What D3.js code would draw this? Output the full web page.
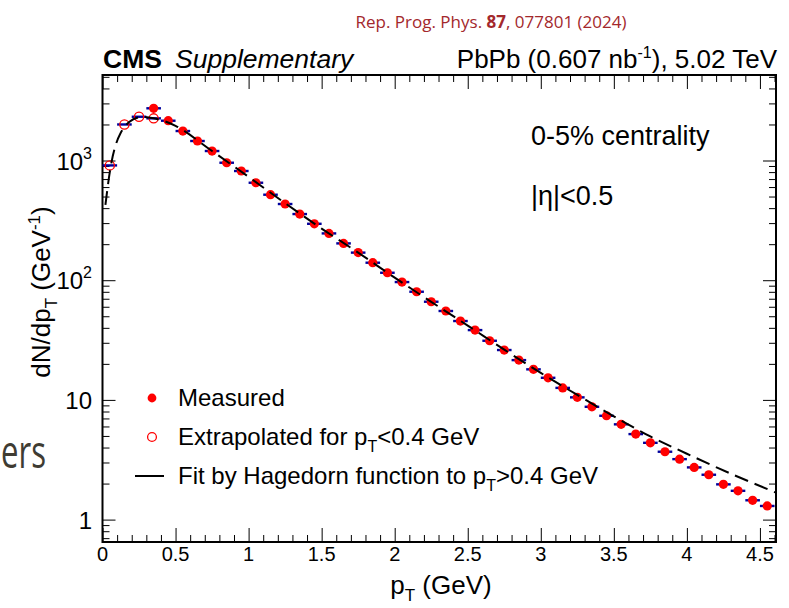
<!DOCTYPE html>
<html lang="en">
<head>
  <meta charset="UTF-8">
  <title>CMS pT spectrum</title>
  <script src="https://d3js.org/d3.v7.min.js"></script>
  <style>
    body { margin: 0; background: #fff; }
    text { font-family: "Liberation Sans", Arial, sans-serif; }
  </style>
</head>
<body>
  <div id="viz"></div>

  <script>
    // values
    const extPt  = [0.05, 0.15, 0.25, 0.35];
    const extVal = [910, 2000, 2320, 2250];

    const measPt = [0.35, 0.45, 0.55, 0.65, 0.75, 0.85, 0.95, 1.05, 1.15, 1.25,
                    1.35, 1.45, 1.55, 1.65, 1.75, 1.85, 1.95, 2.05, 2.15, 2.25,
                    2.35, 2.45, 2.55, 2.65, 2.75, 2.85, 2.95, 3.05, 3.15, 3.25,
                    3.35, 3.45, 3.55, 3.65, 3.75, 3.85, 3.95, 4.05, 4.15, 4.25,
                    4.35, 4.45, 4.55];
    const measVal = [2730, 2150, 1763, 1455, 1200, 958, 817, 652, 518, 433,
                     357, 296, 246, 203, 170, 140, 115.4, 96.5, 80.1, 66.1,
                     55.3, 45.6, 38.3, 31.2, 26.1, 21.5, 18.0, 15.3, 12.6, 10.5,
                     8.76, 7.37, 6.25, 5.18, 4.38, 3.69, 3.20, 2.73, 2.37, 1.97,
                     1.74, 1.45, 1.30];
    const binHalf = 0.05;

    // Hagedorn fit curve, sampled from the figure
    const fitPt  = [0.02, 0.05, 0.08, 0.12, 0.18, 0.25, 0.35, 0.5, 0.75, 1.0,
                    1.25, 1.5, 1.75, 2.0, 2.25, 2.5, 2.75, 3.0, 3.25, 3.5,
                    3.75, 4.0, 4.3, 4.61];
    const fitVal = [425, 800, 1220, 1660, 2090, 2300, 2250, 1950, 1200, 730,
                    440, 270, 170, 105, 66, 41.8, 26.3, 16.8, 11.0, 7.3,
                    4.95, 3.55, 2.42, 1.68];

    const xMajor = [0, 0.5, 1, 1.5, 2, 2.5, 3, 3.5, 4, 4.5];
    const xMinor = [0.1, 0.2, 0.3, 0.4, 0.6, 0.7, 0.8, 0.9, 1.1, 1.2, 1.3, 1.4,
                    1.6, 1.7, 1.8, 1.9, 2.1, 2.2, 2.3, 2.4, 2.6, 2.7, 2.8, 2.9,
                    3.1, 3.2, 3.3, 3.4, 3.6, 3.7, 3.8, 3.9, 4.1, 4.2, 4.3, 4.4, 4.6];
    const yMajor = [1, 10, 100, 1000];
    const yMinor = [0.7, 0.8, 0.9, 2, 3, 4, 5, 6, 7, 8, 9, 20, 30, 40, 50, 60, 70, 80, 90,
                    200, 300, 400, 500, 600, 700, 800, 900, 2000, 3000, 4000, 5000];
    const yLabels = [{ v: 1, base: '1', exp: '' }, { v: 10, base: '10', exp: '' },
                     { v: 100, base: '10', exp: '2' }, { v: 1000, base: '10', exp: '3' }];

    const W = 789, H = 608;
    const plot = { left: 102.5, right: 776, top: 75, bottom: 542 };

    const svg = d3.select('#viz').append('svg')
      .attr('width', W).attr('height', H);
    svg.append('rect').attr('width', W).attr('height', H).attr('fill', '#fff');

    const x = d3.scaleLinear().domain([0, 4.61]).range([plot.left, plot.right]);
    const y = d3.scaleLog().domain([0.65, 5180]).range([plot.bottom, plot.top]);

    // background slide fragment + citation
    svg.append('text')
      .attr('x', 1).attr('y', 468)
      .attr('textLength', 45).attr('lengthAdjust', 'spacingAndGlyphs')
      .style('font-family', '"Open Sans", sans-serif')
      .style('font-size', '46px')
      .attr('fill', '#3f3c33')
      .text('ers');

    const cite = svg.append('text')
      .attr('x', 491).attr('y', 28)
      .attr('text-anchor', 'middle')
      .style('font-family', '"Open Sans", sans-serif')
      .style('font-size', '17px')
      .attr('fill', '#a3282c');
    cite.append('tspan').text('Rep. Prog. Phys. ');
    cite.append('tspan').attr('font-weight', 'bold').text('87');
    cite.append('tspan').text(', 077801 (2024)');

    // axes (ticks inward, ROOT style)
    const tickLine = g => g.call(s => s.select('.domain').remove())
      .call(s => s.selectAll('line').attr('stroke', '#000').attr('stroke-width', 1))
      .call(s => s.selectAll('text').remove());

    svg.append('g').attr('transform', `translate(0,${plot.bottom})`)
      .call(d3.axisBottom(x).tickValues(xMajor).tickSize(-14)).call(tickLine);
    svg.append('g').attr('transform', `translate(0,${plot.bottom})`)
      .call(d3.axisBottom(x).tickValues(xMinor).tickSize(-7)).call(tickLine);
    svg.append('g').attr('transform', `translate(0,${plot.top})`)
      .call(d3.axisTop(x).tickValues(xMajor).tickSize(-14)).call(tickLine);
    svg.append('g').attr('transform', `translate(0,${plot.top})`)
      .call(d3.axisTop(x).tickValues(xMinor).tickSize(-7)).call(tickLine);

    svg.append('g').attr('transform', `translate(${plot.left},0)`)
      .call(d3.axisLeft(y).tickValues(yMajor).tickSize(-13)).call(tickLine);
    svg.append('g').attr('transform', `translate(${plot.left},0)`)
      .call(d3.axisLeft(y).tickValues(yMinor).tickSize(-7)).call(tickLine);
    svg.append('g').attr('transform', `translate(${plot.right},0)`)
      .call(d3.axisRight(y).tickValues(yMajor).tickSize(-13)).call(tickLine);
    svg.append('g').attr('transform', `translate(${plot.right},0)`)
      .call(d3.axisRight(y).tickValues(yMinor).tickSize(-7)).call(tickLine);

    // frame
    svg.append('rect')
      .attr('x', plot.left).attr('y', plot.top)
      .attr('width', plot.right - plot.left).attr('height', plot.bottom - plot.top)
      .attr('fill', 'none').attr('stroke', '#000').attr('stroke-width', 2);

    // tick labels
    svg.append('g').selectAll('text').data(xMajor).join('text')
      .attr('x', d => x(d)).attr('y', plot.bottom + 19)
      .attr('text-anchor', 'middle')
      .style('font-size', '20px')
      .text(d => d3.format('~g')(d));

    const yl = svg.append('g').selectAll('text').data(yLabels).join('text')
      .attr('x', 92).attr('y', d => y(d.v) + 9)
      .attr('text-anchor', 'end')
      .style('font-size', '24px');
    yl.append('tspan').text(d => d.base);
    yl.filter(d => d.exp).append('tspan')
      .attr('dy', -11).style('font-size', '16px').text(d => d.exp);

    // axis titles
    const xt = svg.append('text')
      .attr('x', 441).attr('y', 594)
      .attr('text-anchor', 'middle').style('font-size', '26px');
    xt.append('tspan').text('p');
    xt.append('tspan').attr('dy', 7).style('font-size', '17px').text('T');
    xt.append('tspan').attr('dy', -7).text(' (GeV)');

    const yt = svg.append('text')
      .attr('transform', 'translate(50,292) rotate(-90)')
      .attr('text-anchor', 'middle').style('font-size', '26px');
    yt.append('tspan').text('dN/dp');
    yt.append('tspan').attr('dy', 7).style('font-size', '17px').text('T');
    yt.append('tspan').attr('dy', -7).text(' (GeV');
    yt.append('tspan').attr('dy', -10).style('font-size', '17px').text('-1');
    yt.append('tspan').attr('dy', 10).text(')');

    // header
    svg.append('text').attr('x', 103).attr('y', 68)
      .style('font-size', '26.5px').style('font-weight', 'bold').text('CMS');
    svg.append('text').attr('x', 175).attr('y', 68)
      .style('font-size', '26.5px').style('font-style', 'italic').text('Supplementary');
    const hr = svg.append('text').attr('x', 777).attr('y', 68)
      .attr('text-anchor', 'end').style('font-size', '26px');
    hr.append('tspan').text('PbPb (0.607 nb');
    hr.append('tspan').attr('dy', -10).style('font-size', '16px').text('-1');
    hr.append('tspan').attr('dy', 10).text('), 5.02 TeV');

    svg.append('text').attr('x', 531).attr('y', 145)
      .style('font-size', '27px').text('0-5% centrality');
    svg.append('text').attr('x', 531).attr('y', 205)
      .style('font-size', '27px').text('|\u03b7|<0.5');

    // x error bars (bin width)
    const meas = measPt.map((p, i) => ({ p, v: measVal[i] }));
    const ext = extPt.map((p, i) => ({ p, v: extVal[i] }));
    svg.append('g').selectAll('line').data(meas.concat(ext)).join('line')
      .attr('x1', d => x(d.p - binHalf)).attr('x2', d => x(d.p + binHalf))
      .attr('y1', d => y(d.v)).attr('y2', d => y(d.v))
      .attr('stroke', '#00009c').attr('stroke-width', 2.4);

    // markers
    svg.append('g').selectAll('circle').data(meas).join('circle')
      .attr('cx', d => x(d.p)).attr('cy', d => y(d.v)).attr('r', 4.6)
      .attr('fill', '#ff0000');
    svg.append('g').selectAll('circle').data(ext).join('circle')
      .attr('cx', d => x(d.p)).attr('cy', d => y(d.v)).attr('r', 4.6)
      .attr('fill', 'none').attr('stroke', '#ff0000').attr('stroke-width', 1.3);

    // fit line
    const line = d3.line()
      .x(d => x(d[0])).y(d => y(d[1]))
      .curve(d3.curveCatmullRom);
    svg.append('path')
      .datum(fitPt.map((p, i) => [p, fitVal[i]]))
      .attr('d', line)
      .attr('fill', 'none').attr('stroke', '#000').attr('stroke-width', 2)
      .attr('stroke-dasharray', '14,7');

    // legend
    const lg = svg.append('g');
    lg.append('circle').attr('cx', 152).attr('cy', 398).attr('r', 4.4).attr('fill', '#ff0000');
    lg.append('circle').attr('cx', 152).attr('cy', 437).attr('r', 4.4)
      .attr('fill', 'none').attr('stroke', '#ff0000').attr('stroke-width', 1.3);
    lg.append('line').attr('x1', 135).attr('x2', 164).attr('y1', 476).attr('y2', 476)
      .attr('stroke', '#000').attr('stroke-width', 2);

    lg.append('text').attr('x', 178).attr('y', 406).style('font-size', '24px').text('Measured');
    const l2 = lg.append('text').attr('x', 178).attr('y', 445).style('font-size', '24px');
    l2.append('tspan').text('Extrapolated for p');
    l2.append('tspan').attr('dy', 7).style('font-size', '16px').text('T');
    l2.append('tspan').attr('dy', -7).text('<0.4 GeV');
    const l3 = lg.append('text').attr('x', 178).attr('y', 484).style('font-size', '24px');
    l3.append('tspan').text('Fit by Hagedorn function to p');
    l3.append('tspan').attr('dy', 7).style('font-size', '16px').text('T');
    l3.append('tspan').attr('dy', -7).text('>0.4 GeV');
  </script>
</body>
</html>
